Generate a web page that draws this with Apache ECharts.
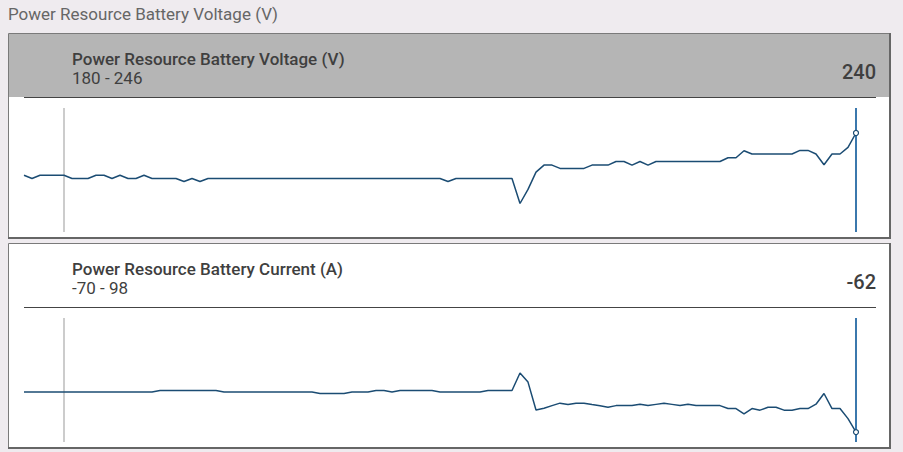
<!DOCTYPE html>
<html>
<head>
<meta charset="utf-8">
<script src="https://cdn.jsdelivr.net/npm/echarts@6/dist/echarts.min.js"></script>
<style>
  html, body { margin: 0; padding: 0; background: #efebef; }
  #chart { width: 903px; height: 452px; }
</style>
</head>
<body>
<div id="chart"></div>
<script>
// readings, one every sample (105 samples)
const voltage = [
  213, 211, 213, 213, 213, 213, 211, 211, 211, 213,
  213, 211, 213, 211, 211, 213, 211, 211, 211, 211,
  209, 211, 209, 211, 211, 211, 211, 211, 211, 211,
  211, 211, 211, 211, 211, 211, 211, 211, 211, 211,
  211, 211, 211, 211, 211, 211, 211, 211, 211, 211,
  211, 211, 211, 209, 211, 211, 211, 211, 211, 211,
  211, 211, 195, 204, 215, 219.5, 219.5, 217.4, 217.4, 217.4,
  217.4, 219.5, 219.5, 219.5, 221.8, 221.8, 219.5, 221.8, 219.5, 221.8,
  221.8, 221.8, 221.8, 221.8, 221.8, 221.8, 221.8, 221.8, 224.2, 224.2,
  228.7, 226.6, 226.6, 226.6, 226.6, 226.6, 226.6, 228.9, 228.9, 226.6,
  219.7, 226.6, 226.6, 230.8, 240
];
const current = [
  3, 3, 3, 3, 3, 3, 3, 3, 3, 3,
  3, 3, 3, 3, 3, 3, 3, 5.5, 5.5, 5.5,
  5.5, 5.5, 5.5, 5.5, 5.5, 3, 3, 3, 3, 3,
  3, 3, 3, 3, 3, 3, 3, 0.7, 0.7, 0.7,
  0.7, 3, 3, 3, 5.5, 5.5, 3, 5.5, 5.5, 5.5,
  5.5, 5.5, 3, 3, 3, 3, 3, 3, 5.5, 5.5,
  5.5, 5.5, 33.9, 19.2, -26, -23.2, -19, -15, -17.3, -15,
  -15, -17.3, -19.4, -21.6, -19, -19, -19, -16.7, -19, -17,
  -15, -17, -19, -16.7, -19, -19, -19, -19, -23.8, -23.8,
  -32.5, -23.8, -26.4, -21.6, -21.6, -26.4, -26.4, -23.8, -23.8, -16.7,
  0.7, -23.8, -23.8, -40.2, -62
];
const samples = voltage.map((v, i) => 'T' + i);

const pageTitle = 'Power Resource Battery Voltage (V)';
const panels = [
  { name: 'Power Resource Battery Voltage (V)', lo: 180, hi: 246, data: voltage, value: '240' },
  { name: 'Power Resource Battery Current (A)', lo: -70, hi: 98, data: current, value: '-62' }
];
const startCursor = 5;

var chart = echarts.init(document.getElementById('chart'), null, { renderer: 'svg' });

const panelTop = [33, 243];
const gridTopOff = 75, gridH = 124;   // grid relative to panel top
const padTop = 15.6, padBottom = 5;   // px between range limits and grid edge
const lineColor = '#1b4c73';

var graphic = [];
var grids = [], xAxes = [], yAxes = [], series = [];

graphic.push({
  type: 'text', z: 10, x: 8, y: 14,
  style: { text: pageTitle, font: '17px Roboto', fill: '#666666', textVerticalAlign: 'middle' }
});

panels.forEach(function (p, k) {
  var t = panelTop[k];
  graphic.push({ type: 'rect', z: 0, shape: { x: 8.5, y: t + 0.5, width: 881, height: 204 },
    style: { fill: '#ffffff', stroke: '#7a7a7a', lineWidth: 1 } });
  if (k === 0) {
    graphic.push({ type: 'rect', z: 0, shape: { x: 9, y: t + 1, width: 880, height: 63 },
      style: { fill: '#b5b5b5' } });
  }
  graphic.push({ type: 'line', z: 1, shape: { x1: 890, y1: t, x2: 890, y2: t + 206 },
    style: { stroke: '#666666', lineWidth: 2 } });
  graphic.push({ type: 'line', z: 1, shape: { x1: 8, y1: t + 205, x2: 891, y2: t + 205 },
    style: { stroke: '#666666', lineWidth: 2 } });
  graphic.push({ type: 'line', z: 1, shape: { x1: 24, y1: t + 64.5, x2: 876, y2: t + 64.5 },
    style: { stroke: '#444444', lineWidth: 1 } });
  graphic.push({ type: 'text', z: 10, x: 72, y: t + 26,
    style: { text: p.name, font: '500 17px Roboto', fill: '#3f3f3f', textVerticalAlign: 'middle' } });
  graphic.push({ type: 'text', z: 10, x: 72, y: t + 45,
    style: { text: p.lo + ' - ' + p.hi, font: '17px Roboto', fill: '#3f3f3f', textVerticalAlign: 'middle' } });
  graphic.push({ type: 'text', z: 10, x: 876, y: t + 39,
    style: { text: p.value, font: '500 20px Roboto', fill: '#3f3f3f', textAlign: 'right', textVerticalAlign: 'middle' } });

  var span = p.hi - p.lo;
  var dataH = gridH - padTop - padBottom;
  grids.push({ left: 24, right: 47, top: t + gridTopOff, height: gridH });
  xAxes.push({ type: 'category', gridIndex: k, data: samples, boundaryGap: false, show: false });
  yAxes.push({ type: 'value', gridIndex: k, show: false,
    min: p.lo - span * padBottom / dataH, max: p.hi + span * padTop / dataH });
  var last = p.data.length - 1;
  series.push({
    type: 'line', xAxisIndex: k, yAxisIndex: k, data: p.data, z: 5,
    symbol: 'circle',
    symbolSize: function (v, prm) { return prm.dataIndex === last ? 5 : 0; },
    showAllSymbol: true,
    lineStyle: { color: lineColor, width: 1.5 },
    itemStyle: { color: '#ffffff', borderColor: lineColor, borderWidth: 1.2 },
    animation: false, silent: true,
    markLine: {
      silent: true, symbol: 'none', animation: false, label: { show: false }, z: 3,
      data: [
        { xAxis: startCursor, lineStyle: { color: '#cccccc', width: 2, type: 'solid' } },
        { xAxis: last, lineStyle: { color: '#3b78ad', width: 2, type: 'solid' } }
      ]
    }
  });
});

chart.setOption({
  backgroundColor: '#efebef',
  animation: false,
  graphic: graphic,
  grid: grids,
  xAxis: xAxes,
  yAxis: yAxes,
  series: series
});
</script>
</body>
</html>
